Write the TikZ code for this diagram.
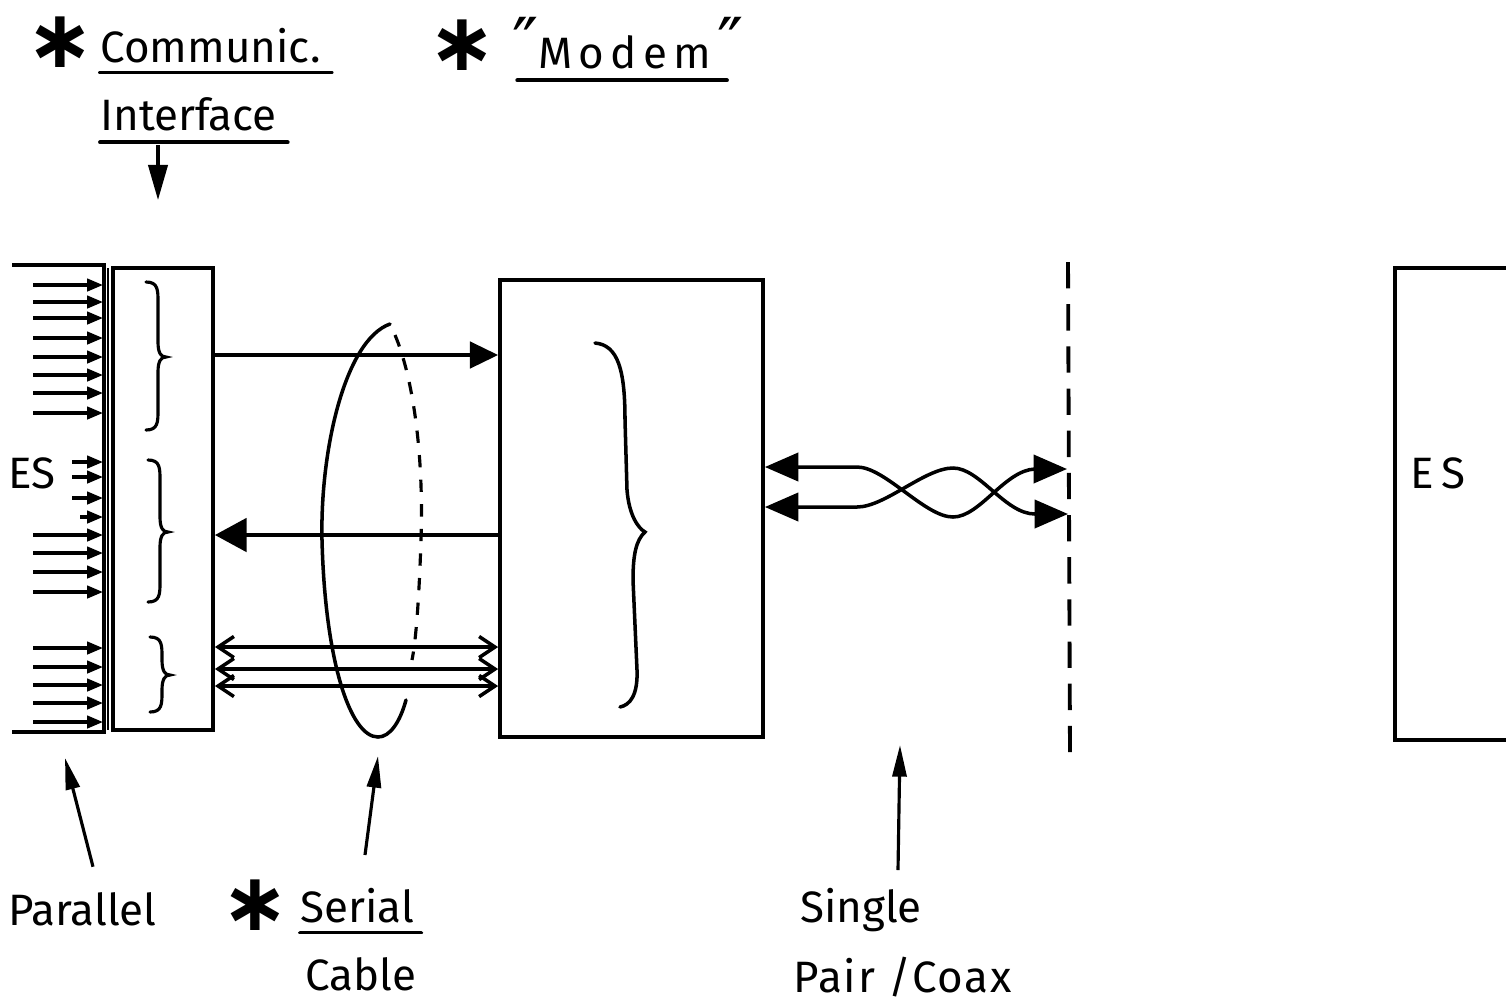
\documentclass[tikz,border=0pt]{standalone}
\usepackage{fontspec}
\setmainfont{Fira Sans}
\newfontfamily\symfont{DejaVu Sans}
\usetikzlibrary{arrows.meta}

\tikzset{
  box/.style={draw, line width=2.2pt, inner sep=0pt},
  sig/.style={line width=2pt},
  par/.style={line width=1.8pt, -{Triangle[length=9pt,width=7pt]}},
  ptr/.style={line width=1.8pt, -{Triangle[length=18pt,width=8pt]}},
  hand/.style={font=\fontsize{25}{30}\selectfont, inner sep=0pt, anchor=base west},
  star/.style={font=\symfont\bfseries\fontsize{46}{46}\selectfont, inner sep=0pt},
  ul/.style={line width=2.2pt, line cap=round}
}

\begin{document}
\begin{tikzpicture}[x=0.02cm,y=-0.02cm]
  \useasboundingbox (0,0) rectangle (1506,1005);

  % boxes
  \node[box, minimum width=2cm, minimum height=9.24cm] (ci) at (163,499) {};
  \node[box, minimum width=5.26cm, minimum height=9.14cm] (modem) at (631.5,508.5) {};
  \draw[box] (1506,268) -- (1395,268) -- (1395,740) -- (1506,740);
  \node[hand] (esr) at (1410,488) {E\,S};

  % end system side of the parallel port
  \draw[box] (12,265) -- (104,265) -- (104,732) -- (12,732);
  \draw[line width=1.2pt] (108,268) -- (108,730);
  \node[hand] (esl) at (8,488) {ES};
  \foreach \y/\x in {285/33,302/33,318/33,338/33,357/33,375/33,393/33,413/33,
                     462/72,477/72,498/72,517/80,535/33,553/33,572/33,592/33,
                     648/33,667/33,685/33,703/33,722/33}
    \draw[par] (\x,\y) -- (103,\y);

  % braces
  \foreach \t/\m/\b/\x in {282/357/430/146, 460/532/602/148, 637/675/712/150}
    \draw[line width=1.8pt, line cap=round]
      (\x,\t) .. controls (\x+12,\t) and (\x+12,\t+8) .. (\x+12,\t+20)
      -- (\x+12,\m-15) .. controls (\x+12,\m-4) and (\x+15,\m) .. (\x+20,\m)
      .. controls (\x+15,\m) and (\x+12,\m+4) .. (\x+12,\m+15)
      -- (\x+12,\b-20) .. controls (\x+12,\b-8) and (\x+12,\b) .. (\x,\b);
  \draw[line width=2pt, line cap=round]
    (595,343) .. controls (618,345) and (625,370) .. (625,420)
    -- (627,490) .. controls (629,515) and (638,528) .. (645,532)
    .. controls (636,540) and (633,555) .. (633,580)
    -- (637,670) .. controls (638,695) and (630,705) .. (620,707);

  % serial lines
  \draw[sig, -{Triangle[length=16pt,width=15pt]}] (ci.east |- 0,355) -- (modem.west |- 0,355);
  \draw[sig, -{Triangle[length=18pt,width=19pt]}] (modem.west |- 0,535) -- (ci.east |- 0,535);
  \foreach \y in {647,669,686}
    \draw[sig, {Straight Barb[length=9pt,width=12pt]}-{Straight Barb[length=9pt,width=12pt]}]
      (ci.east |- 0,\y) -- (modem.west |- 0,\y);

  % cable loop
  \draw[line width=2pt, line cap=round]
    (390,324) .. controls (345,340) and (320,450) .. (322,540)
    .. controls (325,660) and (350,737) .. (378,737)
    .. controls (390,737) and (400,722) .. (406,700);
  \draw[line width=1.8pt, dash pattern=on 7pt off 7pt]
    (395,335) .. controls (412,375) and (424,450) .. (421,540)
    .. controls (419,600) and (416,640) .. (412,660);

  % line side
  \coordinate (dtop) at (1068,262);
  \coordinate (dbot) at (1070,755);
  \draw[line width=2.2pt, dash pattern=on 15pt off 9pt] (dtop) -- (dbot);
  \coordinate (tpa) at (1067,469);
  \coordinate (tpb) at (1068,514);
  \draw[sig, {Triangle[length=19pt,width=16pt]}-{Triangle[length=19pt,width=16pt]}]
    (modem.east |- 0,467) -- (857,467)
    .. controls (885,467) and (925,517) .. (953,517)
    .. controls (980,517) and (1005,470) .. (1035,469) -- (tpa);
  \draw[sig, {Triangle[length=19pt,width=16pt]}-{Triangle[length=19pt,width=16pt]}]
    (modem.east |- 0,507) -- (857,507)
    .. controls (885,507) and (925,468) .. (953,468)
    .. controls (980,468) and (1005,514) .. (1035,514) -- (tpb);

  % labels on top
  \node[star] (st1) at (60,42) {∗};
  \node[hand] (comm) at (100,62) {Communic.};
  \draw[ul] ([yshift=-6pt]comm.base west) -- ([yshift=-6pt,xshift=6pt]comm.base east);
  \node[hand] (iface) at (100,130) {Interface};
  \draw[ul] ([yshift=-7pt]iface.base west) -- ([yshift=-7pt,xshift=6pt]iface.base east);
  \coordinate (ifu) at (158,145);
  \coordinate (ifa) at (158,200);
  \draw[ptr, -{Triangle[length=20pt,width=11pt]}] (ifu) -- (ifa);
  \node[star] (st2) at (462,45) {∗};
  \node[hand] (mod) at (512,68) {{\symfont\fontsize{40}{40}\selectfont ″}\addfontfeature{LetterSpace=14}Modem\kern4pt{\symfont\fontsize{40}{40}\selectfont ″}};
  \draw[ul] ([yshift=-7pt,xshift=3pt]mod.base west) -- ([yshift=-7pt,xshift=-10pt]mod.base east);

  % labels below
  \node[hand] (parlbl) at (8,925) {Parallel};
  \coordinate (pa) at (65,758);
  \draw[ptr] ([xshift=6pt]parlbl.north) ++(0,-25) -- (pa);
  \node[star] (st3) at (255,905) {∗};
  \node[hand] (serlbl) at (300,922) {Serial};
  \draw[ul] ([yshift=-6pt]serlbl.base west) -- ([yshift=-6pt,xshift=4pt]serlbl.base east);
  \node[hand] (cablbl) at (305,990) {Cable};
  \coordinate (ca) at (378,756);
  \draw[ptr] (365,855) -- (ca);
  \node[hand] (singlbl) at (800,922) {Single};
  \node[hand] (pairlbl) at (793,992) {\addfontfeature{LetterSpace=4}Pair /Coax};
  \coordinate (sp) at (900,745);
  \draw[ptr] (898,870) -- (sp);
\end{tikzpicture}
\end{document}
